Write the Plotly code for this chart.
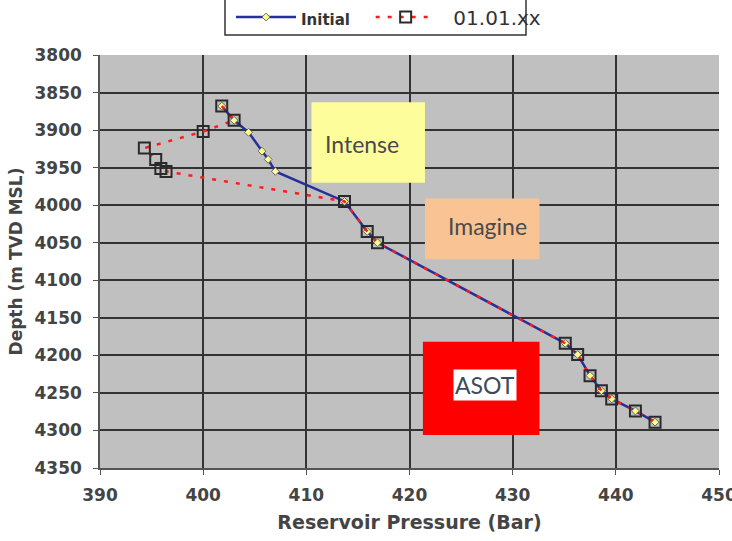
import plotly.graph_objects as go

# Reservoir pressure vs. depth profiles
initial_pressure = [401.8, 403.0, 404.4, 405.7, 406.3, 407.0, 413.7, 415.9, 416.9,
                    435.1, 436.3, 437.5, 438.6, 439.6, 441.9, 443.8]
initial_depth = [3868, 3887, 3903, 3928, 3939, 3955, 3995, 4035, 4050,
                 4184, 4199, 4227, 4247, 4258, 4274, 4289]

survey_pressure = [401.8, 403.0, 400.0, 394.3, 395.4, 395.9, 396.4, 413.7, 415.9, 416.9,
                   435.1, 436.3, 437.5, 438.6, 439.6, 441.9, 443.8]
survey_depth = [3868, 3887, 3902, 3924, 3939, 3951, 3955, 3995, 4035, 4050,
                4184, 4199, 4227, 4247, 4258, 4274, 4289]

x_ticks = [390, 400, 410, 420, 430, 440, 450]
y_ticks = [3800, 3850, 3900, 3950, 4000, 4050, 4100, 4150, 4200, 4250, 4300, 4350]

# Zone boxes: label, x0, x1, y0, y1, fill
zone_labels = ["Intense", "Imagine", "ASOT"]
zone_x0 = [410.5, 421.5, 421.3]
zone_x1 = [421.5, 432.6, 432.6]
zone_y0 = [3863, 3991, 4182]
zone_y1 = [3970, 4072, 4306]
zone_fill = ["#fdfd9c", "#fac393", "#ff0000"]
label_x = [415.4, 427.6, 427.3]
label_y = [3919, 4028, 4240]

fig = go.Figure()

fig.add_trace(go.Scatter(
    x=initial_pressure, y=initial_depth, mode="lines+markers",
    name="<b><span style='font-size:15px;'>Initial&nbsp;&nbsp;&nbsp;</span></b>",
    line=dict(color="#26309a", width=2.5),
    marker=dict(symbol="diamond", size=6, color="#ffff88",
                line=dict(color="#666666", width=1)),
))

fig.add_trace(go.Scatter(
    x=survey_pressure, y=survey_depth, mode="lines+markers",
    name="&nbsp;&nbsp;01.01.xx",
    line=dict(color="#ff1a1a", width=2.5, dash="4px,8px"),
    marker=dict(symbol="square-open", size=11, color="#2a2a2a",
                line=dict(width=2)),
))

shapes = []
for x0, x1, y0, y1, c in zip(zone_x0, zone_x1, zone_y0, zone_y1, zone_fill):
    shapes.append(dict(type="rect", xref="x", yref="y", x0=x0, x1=x1, y0=y0, y1=y1,
                       fillcolor=c, line=dict(width=0), layer="between"))

# legend frame
shapes.append(dict(type="rect", xref="paper", yref="paper",
                   x0=(225 - 100) / 619, x1=(526 - 100) / 619,
                   y0=(468 - 35) / 413, y1=1.25,
                   line=dict(color="#333333", width=1.5), fillcolor="white",
                   layer="below"))

annotations = []
for lab, lx, ly in zip(zone_labels, label_x, label_y):
    annotations.append(dict(
        x=lx, y=ly, xref="x", yref="y", text=lab, showarrow=False,
        font=dict(family="Lato", size=23, color="#4a4a4a" if lab != "ASOT" else "#3d4a5c"),
        bgcolor="white" if lab == "ASOT" else None, borderpad=1,
    ))

fig.update_layout(
    width=732, height=541,
    margin=dict(l=100, r=13, t=55, b=73, autoexpand=False),
    paper_bgcolor="white",
    plot_bgcolor="#c0c0c0",
    showlegend=True,
    legend=dict(orientation="h", x=(231 - 100) / 619, xanchor="left",
                y=(468 - 17) / 413, yanchor="middle",
                font=dict(family="DejaVu Sans", size=20, color="#333333"),
                bgcolor="rgba(0,0,0,0)", borderwidth=0,
                itemwidth=60),
    shapes=shapes,
    annotations=annotations,
    xaxis=dict(
        range=[390, 450], tickvals=x_ticks, ticktext=[str(v) for v in x_ticks],
        showgrid=True, gridcolor="#333333", gridwidth=1.5,
        showline=True, linecolor="#555555", linewidth=1.5,
        ticks="outside", ticklen=5, tickcolor="#555555",
        tickfont=dict(family="DejaVu Sans", size=17, color="#444444", weight="bold"),
        ticklabelstandoff=6, ticklabeloverflow="allow",
        title=dict(text="<b>Reservoir Pressure (Bar)</b>", standoff=12,
                   font=dict(family="DejaVu Sans", size=19, color="#444444")),
        zeroline=False, automargin=False,
    ),
    yaxis=dict(
        range=[4350, 3800], tickvals=y_ticks, ticktext=[str(v) for v in y_ticks],
        showgrid=True, gridcolor="#333333", gridwidth=1.5,
        showline=True, linecolor="#555555", linewidth=1.5,
        ticks="outside", ticklen=5, tickcolor="#555555",
        tickfont=dict(family="DejaVu Sans", size=17, color="#444444", weight="bold"),
        ticklabelstandoff=8,
        title=dict(text="<b>Depth (m TVD MSL)</b>", standoff=8,
                   font=dict(family="DejaVu Sans", size=17, color="#444444")),
        zeroline=False, automargin=False,
    ),
)

fig.write_html("out.html")
